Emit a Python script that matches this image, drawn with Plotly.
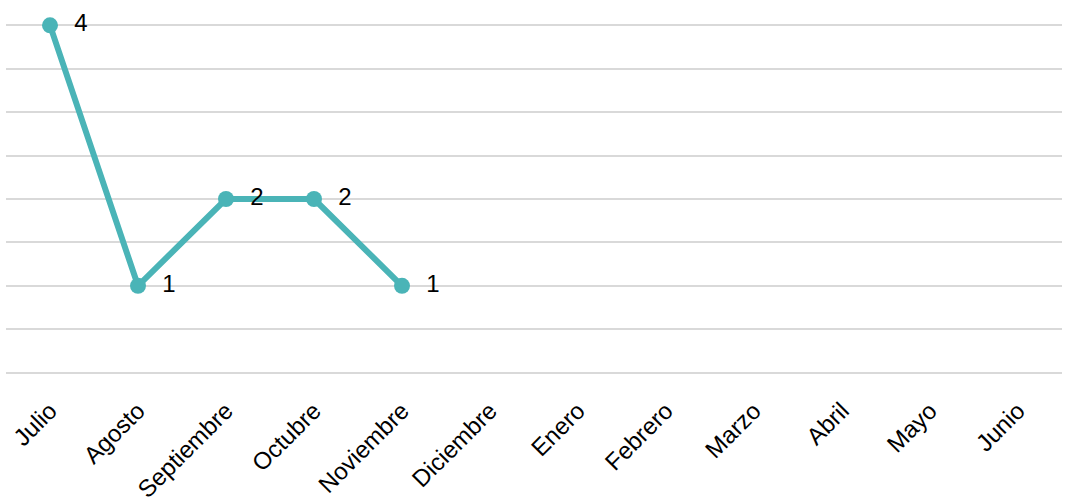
import plotly.graph_objects as go

months = ["Julio", "Agosto", "Septiembre", "Octubre", "Noviembre", "Diciembre",
          "Enero", "Febrero", "Marzo", "Abril", "Mayo", "Junio"]
values = [4, 1, 2, 2, 1]
labels = [str(v) for v in values]

color = "#4AB4B7"

fig = go.Figure()
fig.add_trace(go.Scatter(
    x=months[:len(values)], y=values,
    mode="lines+markers+text",
    line=dict(color=color, width=6),
    marker=dict(color=color, size=16),
    text=["  " + t for t in labels],
    textposition="middle right",
    textfont=dict(family="Liberation Sans, Arial", size=24, color="black"),
    cliponaxis=False,
    hoverinfo="skip",
))

fig.update_layout(
    width=1065, height=503,
    margin=dict(l=6, r=3, t=21, b=126, autoexpand=False),
    paper_bgcolor="white", plot_bgcolor="white",
    showlegend=False,
    xaxis=dict(
        type="category", categoryorder="array", categoryarray=months,
        range=[-0.5, len(months) - 0.5], automargin=False,
        tickangle=-45, showgrid=False, zeroline=False, showline=False,
        ticks="", ticklabelstandoff=14,
        tickfont=dict(family="Liberation Sans, Arial", size=24, color="black"),
    ),
    yaxis=dict(
        range=[-0.05, 4.05], tick0=0, dtick=0.5, showticklabels=False,
        showgrid=True, gridcolor="#D9D9D9", gridwidth=2, automargin=False,
        zeroline=False, showline=False, ticks="",
    ),
)

fig.write_html(
    "out.html",
    config={"displayModeBar": False},
    post_script="document.body.style.margin='0';document.body.style.overflow='hidden';",
)
